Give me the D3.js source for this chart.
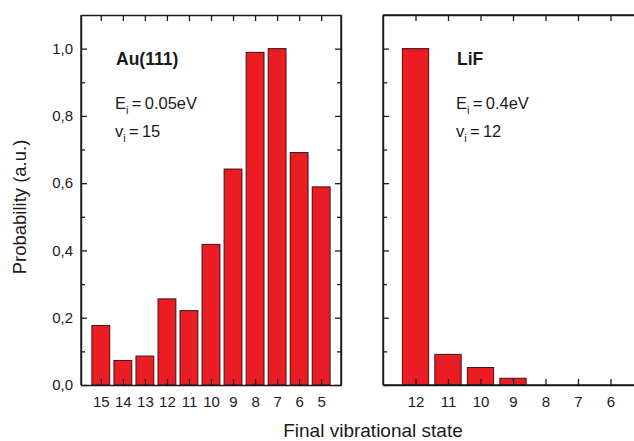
<!DOCTYPE html>
<html>
<head>
<meta charset="utf-8">
<script src="https://d3js.org/d3.v7.min.js"></script>
<style>
    body { margin: 0; background: #ffffff; }
    svg text { font-family: "Liberation Sans", Arial, sans-serif; fill: #1a1a1a; }
</style>
</head>
<body>
<svg id="chart" width="634" height="441"></svg>
<script>
"use strict";

// data
let auStates = [15, 14, 13, 12, 11, 10, 9, 8, 7, 6, 5]
let auProb = [0.177, 0.073, 0.086, 0.256, 0.221, 0.418, 0.642, 0.989, 1.0, 0.691, 0.589]
let lifStates = [12, 11, 10, 9, 8, 7, 6]
let lifProb = [1.0, 0.091, 0.052, 0.020, 0, 0, 0]
let yTicks = [0, 0.2, 0.4, 0.6, 0.8, 1.0]
let yMinorTicks = [0.1, 0.3, 0.5, 0.7, 0.9]

const svg = d3.select("#chart")
const barColor = "#ec1c24"
const lineColor = "#1a1a1a"
const plotTop = 15, plotBottom = 385

let y = d3.scaleLinear()
    .domain([0, 1.1])
    .range([plotBottom, plotTop]);

// comma as decimal mark, like the original
let fmtComma = function (d) { return d3.format(".1f")(d).replace(".", ",") }

// one panel = frame + ticks + bars
function drawPanel(states, probs, x, showLabels, clipRight) {
    let g = svg.append("g")
    let step = Math.abs(x(states[0]) - x(states[1]))
    let barW = step * 0.81
    let left = x.range()[0], right = x.range()[1]

    // bars
    g.selectAll("rect")
        .data(states.map(function (s, i) { return { s: s, p: probs[i] } }).filter(function (d) { return d.p > 0 }))
        .enter().append("rect")
        .attr("x", function (d) { return x(d.s) - barW / 2 })
        .attr("y", function (d) { return y(d.p) })
        .attr("width", barW)
        .attr("height", function (d) { return y(0) - y(d.p) })
        .attr("fill", barColor)
        .attr("stroke", "#3b1414")
        .attr("stroke-width", 1)

    // bottom axis, ticks point inward
    g.append("g")
        .attr("transform", "translate(0," + plotBottom + ")")
        .call(d3.axisBottom(x).tickValues(states).tickSizeInner(-6).tickSizeOuter(0).tickPadding(11).tickFormat(d3.format("d")))
        .call(styleAxis)
        .selectAll("text").style("font-size", "15px")

    // top axis, no labels
    g.append("g")
        .attr("transform", "translate(0," + plotTop + ")")
        .call(d3.axisTop(x).tickValues(states).tickSizeInner(-6).tickSizeOuter(0).tickFormat(""))
        .call(styleAxis)

    // left axis (major + minor)
    let yLeft = g.append("g").attr("transform", "translate(" + left + ",0)")
    yLeft.call(d3.axisLeft(y).tickValues(yTicks).tickSizeInner(-6).tickSizeOuter(0).tickPadding(8)
        .tickFormat(showLabels ? fmtComma : ""))
        .call(styleAxis)
        .selectAll("text").style("font-size", "15px")
    yLeft.append("g")
        .call(d3.axisLeft(y).tickValues(yMinorTicks).tickSizeInner(-4).tickSizeOuter(0).tickFormat(""))
        .call(styleAxis)
    yLeft.select(".domain").attr("d", "M0," + plotTop + "V" + plotBottom)

    // right axis
    if (!clipRight) {
        let yRight = g.append("g").attr("transform", "translate(" + right + ",0)")
        yRight.call(d3.axisRight(y).tickValues(yTicks).tickSizeInner(-6).tickSizeOuter(0).tickFormat(""))
            .call(styleAxis)
        yRight.append("g")
            .call(d3.axisRight(y).tickValues(yMinorTicks).tickSizeInner(-4).tickSizeOuter(0).tickFormat(""))
            .call(styleAxis)
        yRight.select(".domain").attr("d", "M0," + plotTop + "V" + plotBottom)
    }
    return g
}

function styleAxis(sel) {
    sel.selectAll("path.domain").attr("stroke", lineColor).attr("stroke-width", 1.4)
    sel.selectAll(".tick line").attr("stroke", lineColor).attr("stroke-width", 1.3)
    sel.selectAll("text").attr("fill", "#1a1a1a")
}

// sample name + E_i / v_i block
function addLabel(xPos, name, energy, vib) {
    svg.append("text")
        .attr("x", xPos + 1).attr("y", 65)
        .style("font-size", "17.5px").style("font-weight", "bold")
        .text(name)
    let e = svg.append("text").attr("x", xPos).attr("y", 109).style("font-size", "16.5px")
    e.append("tspan").text("E")
    e.append("tspan").attr("dy", 5).style("font-size", "11px").text("i")
    e.append("tspan").attr("dy", -5).text("\u2009=\u20090" + energy + "eV")
    let v = svg.append("text").attr("x", xPos).attr("y", 137).style("font-size", "16.5px")
    v.append("tspan").text("v")
    v.append("tspan").attr("dy", 5).style("font-size", "11px").text("i")
    v.append("tspan").attr("dy", -5).text("\u2009=\u2009" + vib)
}

// left panel: Au(111)
let xAu = d3.scaleLinear()
    .domain([15.9, 4.1])
    .range([81, 341]);
drawPanel(auStates, auProb, xAu, true, false)

// right panel: LiF (frame runs off the page)
let xLif = d3.scaleLinear()
    .domain([13, 5])
    .range([383, 643]);
drawPanel(lifStates, lifProb, xLif, false, true)
svg.append("path")
    .attr("d", "M383," + plotTop + "H634M383," + plotBottom + "H634")
    .attr("stroke", lineColor).attr("stroke-width", 1.4)

addLabel(115, "Au(111)", ".05", "15")
addLabel(456, "LiF", ".4", "12")

// axis titles
svg.append("text")
    .attr("x", 373).attr("y", 437)
    .attr("text-anchor", "middle")
    .style("font-size", "19px")
    .text("Final vibrational state")

svg.append("text")
    .attr("transform", "translate(26,207) rotate(-90)")
    .attr("text-anchor", "middle")
    .style("font-size", "18.5px")
    .text("Probability (a.u.)")
</script>
</body>
</html>
